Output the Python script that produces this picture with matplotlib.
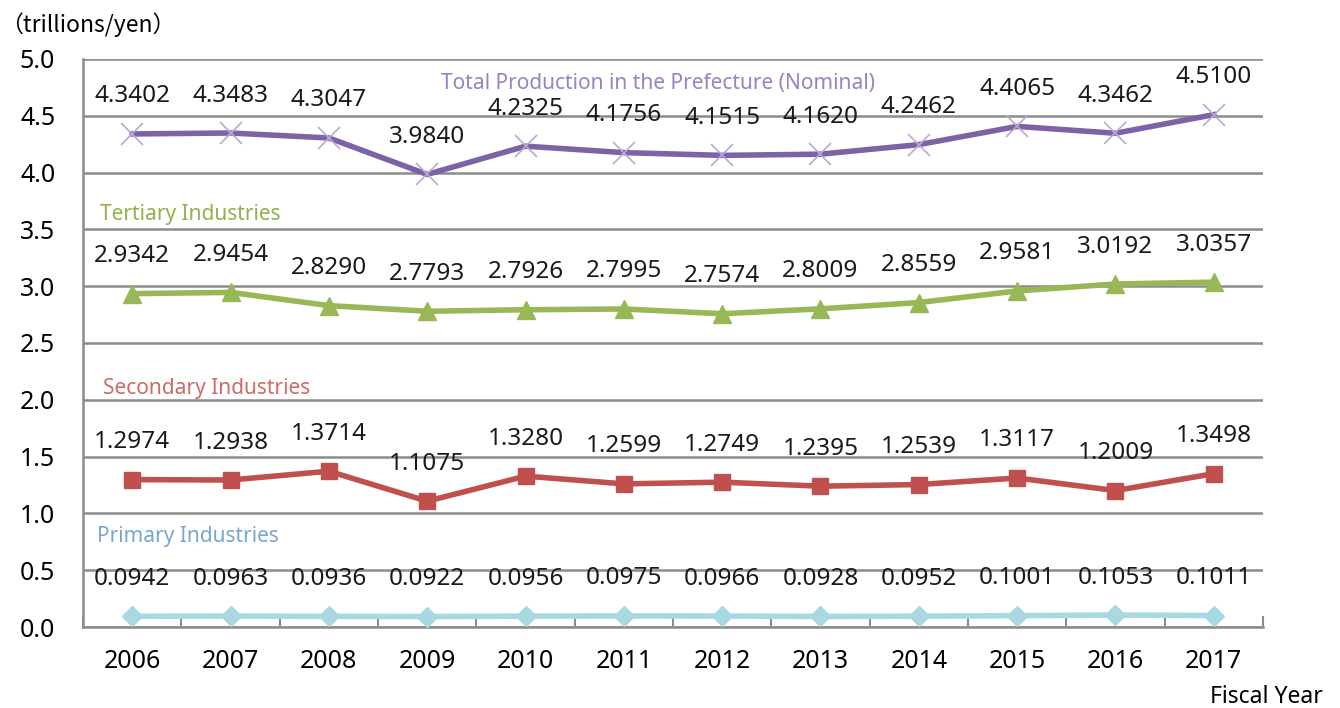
import matplotlib.pyplot as plt
import numpy as np

plt.rcParams['font.family'] = ['Noto Sans', 'Noto Sans CJK JP', 'DejaVu Sans']

years = ['2006', '2007', '2008', '2009', '2010', '2011',
         '2012', '2013', '2014', '2015', '2016', '2017']

total = [4.3402, 4.3483, 4.3047, 3.9840, 4.2325, 4.1756,
         4.1515, 4.1620, 4.2462, 4.4065, 4.3462, 4.5100]
tertiary = [2.9342, 2.9454, 2.8290, 2.7793, 2.7926, 2.7995,
            2.7574, 2.8009, 2.8559, 2.9581, 3.0192, 3.0357]
secondary = [1.2974, 1.2938, 1.3714, 1.1075, 1.3280, 1.2599,
             1.2749, 1.2395, 1.2539, 1.3117, 1.2009, 1.3498]
primary = [0.0942, 0.0963, 0.0936, 0.0922, 0.0956, 0.0975,
           0.0966, 0.0928, 0.0952, 0.1001, 0.1053, 0.1011]

series_names = ['Total Production in the Prefecture (Nominal)',
                'Tertiary Industries', 'Secondary Industries', 'Primary Industries']

fig = plt.figure(figsize=(13.4, 7.08), dpi=100)
ax = fig.add_axes([0.062, 0.1144, 0.8805, 0.8023])

x = np.arange(len(years))
grid_col = '#8c8c8c'

# lines + markers
ax.plot(x, total, color='#7f62a6', lw=4, zorder=3)
ax.plot(x, total, ls='none', marker='x', ms=16, mew=1.2, color='#b9a9d4', zorder=4)
ax.plot(x, tertiary, color='#97b854', lw=4, marker='^', ms=13, zorder=3)
ax.plot(x, secondary, color='#c0504d', lw=4, marker='s', ms=12, zorder=3)
ax.plot(x, primary, color='#a8d8e2', lw=4, marker='D', ms=10, zorder=3)

# data labels
for vals in [total, tertiary, secondary, primary]:
    for xi, v in zip(x, vals):
        ax.annotate(f'{v:.4f}', (xi, v), xytext=(0, 27), textcoords='offset points',
                    ha='center', va='center', fontsize=17.5, color='#1a1a1a', zorder=5)

# series names
ax.text(5.35, 4.78, series_names[0], ha='center', va='center', fontsize=15, color='#9585c2')
ax.text(-0.33, 3.63, series_names[1], ha='left', va='center', fontsize=15, color='#8fb24e')
ax.text(-0.30, 2.10, series_names[2], ha='left', va='center', fontsize=15, color='#cf6a66')
ax.text(-0.36, 0.80, series_names[3], ha='left', va='center', fontsize=15, color='#79a6d2')

ax.set_xlim(-0.5, 11.5)
ax.set_ylim(0, 5.0)
ax.set_yticks(np.arange(0, 5.01, 0.5))
ax.set_yticklabels([f'{t:.1f}' for t in np.arange(0, 5.01, 0.5)], fontsize=18)
ax.set_xticks(x)
ax.set_xticklabels(years, fontsize=18)
ax.set_xticks(np.arange(-0.5, 12, 1), minor=True)
ax.tick_params(axis='x', which='major', length=0, pad=16)
ax.tick_params(axis='x', which='minor', direction='in', length=8, width=1.5, color=grid_col)
ax.tick_params(axis='y', length=0, pad=20)

ax.grid(axis='y', color=grid_col, lw=1.8)
ax.set_axisbelow(True)
for s in ['top', 'right']:
    ax.spines[s].set_visible(False)
for s in ['left', 'bottom']:
    ax.spines[s].set_color(grid_col)
    ax.spines[s].set_linewidth(1.8)

fig.text(0.0, 0.965, '\uff08trillions/yen\uff09', fontsize=16.5, ha='left', va='center',
         family=['Noto Sans CJK JP', 'DejaVu Sans'])
fig.text(0.987, 0.016, 'Fiscal Year', fontsize=16.5, ha='right', va='center')

plt.savefig('out.png', dpi=100)
